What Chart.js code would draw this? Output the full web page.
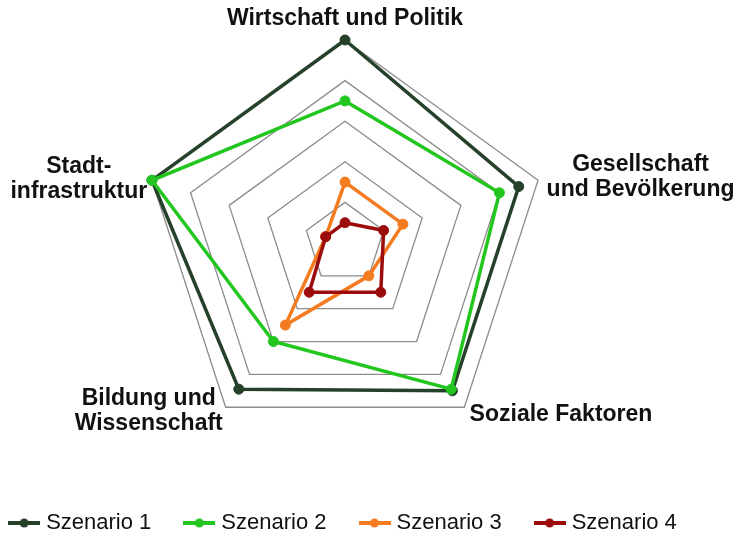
<!DOCTYPE html>
<html>
<head>
<meta charset="utf-8">
<script src="https://cdn.jsdelivr.net/npm/chart.js@4.4.1/dist/chart.umd.min.js"></script>
<style>
    html, body { margin: 0; padding: 0; background: #fff; overflow: hidden; }
    #chartWrap { position: relative; width: 738px; height: 536px; overflow: hidden; }
    #radarChart { position: absolute; left: -55px; top: 0; }
</style>
</head>
<body>
<div id="chartWrap"><canvas id="radarChart" width="800" height="544"></canvas></div>
<script>
// axis titles, one entry per spoke (lines of the label)
var categories = [
    ["Wirtschaft und Politik"],
    ["Gesellschaft", "und Bevölkerung"],
    ["Soziale Faktoren"],
    ["Bildung und", "Wissenschaft"],
    ["Stadt-", "infrastruktur"]
];
var seriesNames = ["Szenario 1", "Szenario 2", "Szenario 3", "Szenario 4"];
var szenario1 = [5, 4.5, 4.5, 4.45, 5];
var szenario2 = [3.5, 4, 4.45, 3, 5];
var szenario3 = [1.5, 1.5, 1, 2.5, 0.5];
var szenario4 = [0.5, 1, 1.5, 1.5, 0.5];
var scaleTicks = [0, 1, 2, 3, 4, 5];

var seriesColors = ["#26412a", "#22c61e", "#f47b1f", "#9c0c0c"];
var FONT_FAMILY = '"Liberation Sans", Arial, sans-serif';

Chart.defaults.font.family = FONT_FAMILY;
Chart.defaults.color = "#111";

// small line + dot marker for the legend
function makeMarker(color) {
    var c = document.createElement("canvas");
    c.width = 32;
    c.height = 12;
    var g = c.getContext("2d");
    g.strokeStyle = color;
    g.lineWidth = 4;
    g.beginPath();
    g.moveTo(0, 6);
    g.lineTo(32, 6);
    g.stroke();
    g.fillStyle = color;
    g.beginPath();
    g.arc(16, 6, 4.5, 0, Math.PI * 2);
    g.fill();
    return c;
}

var axisTitlesPlugin = {
    id: "axisTitles",
    afterDatasetsDraw: function (chart) {
        var scale = chart.scales.r;
        var ctx = chart.ctx;
        var outer = scale.getDistanceFromCenterForValue(scale.max);
        var lineHeight = 25;
        ctx.save();
        ctx.font = "bold 23px " + FONT_FAMILY;
        ctx.fillStyle = "#111";
        ctx.textAlign = "center";
        ctx.textBaseline = "middle";
        categories.forEach(function (lines, i) {
            var angle = scale.getPointPosition(i, outer).angle;
            var pad = Math.cos(angle) < -0.1 ? 5 : 9;
            var pos = scale.getPointPosition(i, outer + pad);
            var w = Math.max.apply(null, lines.map(function (l) { return ctx.measureText(l).width; }));
            var h = lines.length * lineHeight;
            var cos = Math.cos(pos.angle);
            var sin = Math.sin(pos.angle);
            var cx = pos.x;
            var cy = pos.y;
            if (Math.abs(cos) < 0.1) {
                cy = sin < 0 ? pos.y - h / 2 : pos.y + h / 2;
            } else {
                cx = cos > 0 ? pos.x + w / 2 : pos.x - w / 2;
            }
            lines.forEach(function (line, k) {
                ctx.fillText(line, cx, cy - h / 2 + lineHeight * (k + 0.5));
            });
        });
        ctx.restore();
    }
};

var seriesData = [szenario1, szenario2, szenario3, szenario4];
var datasets = seriesData.map(function (values, i) {
    return {
        label: seriesNames[i],
        data: values,
        borderColor: seriesColors[i],
        backgroundColor: seriesColors[i],
        pointBackgroundColor: seriesColors[i],
        pointBorderColor: seriesColors[i],
        borderWidth: 3.5,
        pointRadius: 5,
        pointBorderWidth: 1,
        fill: false,
        tension: 0,
        order: seriesData.length - i
    };
});
var markers = seriesColors.map(makeMarker);

new Chart(document.getElementById("radarChart"), {
    type: "radar",
    data: {
        labels: categories.map(function (c) { return c.join(" "); }),
        datasets: datasets
    },
    plugins: [axisTitlesPlugin],
    options: {
        responsive: false,
        animation: false,
        layout: {
            padding: {top: 40, left: 0, right: 0, bottom: 0}
        },
        scales: {
            r: {
                min: scaleTicks[0],
                max: scaleTicks[scaleTicks.length - 1],
                ticks: {display: false, stepSize: 1},
                grid: {color: "#8c8c8c", lineWidth: 1.3},
                angleLines: {display: false},
                pointLabels: {display: false}
            }
        },
        plugins: {
            tooltip: {enabled: false},
            legend: {
                position: "bottom",
                title: {display: true, text: " ", font: {size: 10}, padding: 8.5},
                labels: {
                    usePointStyle: true,
                    pointStyleWidth: 22,
                    padding: 37,
                    color: "#111",
                    font: {size: 22, family: FONT_FAMILY},
                    generateLabels: function (chart) {
                        return chart.data.datasets.map(function (ds, i) {
                            return {
                                text: ds.label,
                                pointStyle: markers[i],
                                fillStyle: seriesColors[i],
                                strokeStyle: seriesColors[i],
                                lineWidth: 0,
                                hidden: false,
                                datasetIndex: i
                            };
                        });
                    }
                }
            }
        }
    }
});
</script>
</body>
</html>
